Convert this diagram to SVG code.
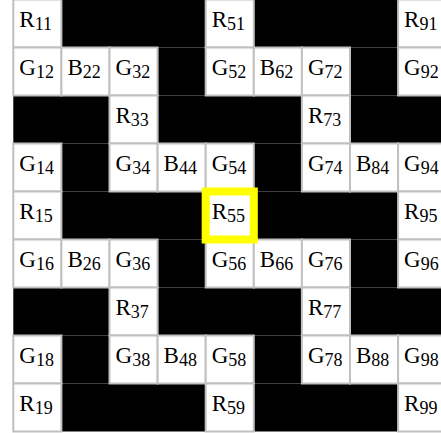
<svg xmlns="http://www.w3.org/2000/svg" width="441" height="433" viewBox="0 0 441 433">
<style>
.bk{fill:#000}
.w{fill:#fff;stroke:#c0c0c0;stroke-width:2}
.t{font-family:"Liberation Serif","Times New Roman",serif;font-size:23px;fill:#000}
.s{font-size:18px}
.hl{fill:none;stroke:#ffff00;stroke-width:8}
</style>
<rect x="0" y="0" width="441" height="433" fill="#fff"/>
<g id="black">
<rect class="bk" x="61.4" y="-0.5" width="144.3" height="48"/>
<rect class="bk" x="253.8" y="-0.5" width="144.3" height="48"/>
<rect class="bk" x="157.6" y="47.5" width="48.1" height="48"/>
<rect class="bk" x="350" y="47.5" width="48.1" height="48"/>
<rect class="bk" x="13.3" y="95.5" width="96.2" height="48"/>
<rect class="bk" x="157.6" y="95.5" width="144.3" height="48"/>
<rect class="bk" x="350" y="95.5" width="96.2" height="48"/>
<rect class="bk" x="61.4" y="143.5" width="48.1" height="48"/>
<rect class="bk" x="253.8" y="143.5" width="48.1" height="48"/>
<rect class="bk" x="61.4" y="191.5" width="144.3" height="48"/>
<rect class="bk" x="253.8" y="191.5" width="144.3" height="48"/>
<rect class="bk" x="157.6" y="239.5" width="48.1" height="48"/>
<rect class="bk" x="350" y="239.5" width="48.1" height="48"/>
<rect class="bk" x="13.3" y="287.5" width="96.2" height="48"/>
<rect class="bk" x="157.6" y="287.5" width="144.3" height="48"/>
<rect class="bk" x="350" y="287.5" width="96.2" height="48"/>
<rect class="bk" x="61.4" y="335.5" width="48.1" height="48"/>
<rect class="bk" x="253.8" y="335.5" width="48.1" height="48"/>
<rect class="bk" x="61.4" y="383.5" width="144.3" height="48"/>
<rect class="bk" x="253.8" y="383.5" width="144.3" height="48"/>
</g>
<g id="R11"><rect class="w" x="13.3" y="-0.5" width="48.1" height="48"/><text class="t" x="19.3" y="26.5">R<tspan class="s" dy="3">11</tspan></text></g>
<g id="R51"><rect class="w" x="205.7" y="-0.5" width="48.1" height="48"/><text class="t" x="211.7" y="26.5">R<tspan class="s" dy="3">51</tspan></text></g>
<g id="R91"><rect class="w" x="398.1" y="-0.5" width="48.1" height="48"/><text class="t" x="404.1" y="26.5">R<tspan class="s" dy="3">91</tspan></text></g>

<g id="G12"><rect class="w" x="13.3" y="47.5" width="48.1" height="48"/><text class="t" x="19.3" y="74.5">G<tspan class="s" dy="3">12</tspan></text></g>
<g id="B22"><rect class="w" x="61.4" y="47.5" width="48.1" height="48"/><text class="t" x="67.4" y="74.5">B<tspan class="s" dy="3">22</tspan></text></g>
<g id="G32"><rect class="w" x="109.5" y="47.5" width="48.1" height="48"/><text class="t" x="115.5" y="74.5">G<tspan class="s" dy="3">32</tspan></text></g>
<g id="G52"><rect class="w" x="205.7" y="47.5" width="48.1" height="48"/><text class="t" x="211.7" y="74.5">G<tspan class="s" dy="3">52</tspan></text></g>
<g id="B62"><rect class="w" x="253.8" y="47.5" width="48.1" height="48"/><text class="t" x="259.8" y="74.5">B<tspan class="s" dy="3">62</tspan></text></g>
<g id="G72"><rect class="w" x="301.9" y="47.5" width="48.1" height="48"/><text class="t" x="307.9" y="74.5">G<tspan class="s" dy="3">72</tspan></text></g>
<g id="G92"><rect class="w" x="398.1" y="47.5" width="48.1" height="48"/><text class="t" x="404.1" y="74.5">G<tspan class="s" dy="3">92</tspan></text></g>

<g id="R33"><rect class="w" x="109.5" y="95.5" width="48.1" height="48"/><text class="t" x="115.5" y="122.5">R<tspan class="s" dy="3">33</tspan></text></g>
<g id="R73"><rect class="w" x="301.9" y="95.5" width="48.1" height="48"/><text class="t" x="307.9" y="122.5">R<tspan class="s" dy="3">73</tspan></text></g>

<g id="G14"><rect class="w" x="13.3" y="143.5" width="48.1" height="48"/><text class="t" x="19.3" y="170.5">G<tspan class="s" dy="3">14</tspan></text></g>
<g id="G34"><rect class="w" x="109.5" y="143.5" width="48.1" height="48"/><text class="t" x="115.5" y="170.5">G<tspan class="s" dy="3">34</tspan></text></g>
<g id="B44"><rect class="w" x="157.6" y="143.5" width="48.1" height="48"/><text class="t" x="163.6" y="170.5">B<tspan class="s" dy="3">44</tspan></text></g>
<g id="G54"><rect class="w" x="205.7" y="143.5" width="48.1" height="48"/><text class="t" x="211.7" y="170.5">G<tspan class="s" dy="3">54</tspan></text></g>
<g id="G74"><rect class="w" x="301.9" y="143.5" width="48.1" height="48"/><text class="t" x="307.9" y="170.5">G<tspan class="s" dy="3">74</tspan></text></g>
<g id="B84"><rect class="w" x="350" y="143.5" width="48.1" height="48"/><text class="t" x="356" y="170.5">B<tspan class="s" dy="3">84</tspan></text></g>
<g id="G94"><rect class="w" x="398.1" y="143.5" width="48.1" height="48"/><text class="t" x="404.1" y="170.5">G<tspan class="s" dy="3">94</tspan></text></g>

<g id="R15"><rect class="w" x="13.3" y="191.5" width="48.1" height="48"/><text class="t" x="19.3" y="218.5">R<tspan class="s" dy="3">15</tspan></text></g>
<g id="R55"><rect class="w" x="205.7" y="191.5" width="48.1" height="48"/><text class="t" x="211.7" y="218.5">R<tspan class="s" dy="3">55</tspan></text></g>
<g id="R95"><rect class="w" x="398.1" y="191.5" width="48.1" height="48"/><text class="t" x="404.1" y="218.5">R<tspan class="s" dy="3">95</tspan></text></g>

<g id="G16"><rect class="w" x="13.3" y="239.5" width="48.1" height="48"/><text class="t" x="19.3" y="266.5">G<tspan class="s" dy="3">16</tspan></text></g>
<g id="B26"><rect class="w" x="61.4" y="239.5" width="48.1" height="48"/><text class="t" x="67.4" y="266.5">B<tspan class="s" dy="3">26</tspan></text></g>
<g id="G36"><rect class="w" x="109.5" y="239.5" width="48.1" height="48"/><text class="t" x="115.5" y="266.5">G<tspan class="s" dy="3">36</tspan></text></g>
<g id="G56"><rect class="w" x="205.7" y="239.5" width="48.1" height="48"/><text class="t" x="211.7" y="266.5">G<tspan class="s" dy="3">56</tspan></text></g>
<g id="B66"><rect class="w" x="253.8" y="239.5" width="48.1" height="48"/><text class="t" x="259.8" y="266.5">B<tspan class="s" dy="3">66</tspan></text></g>
<g id="G76"><rect class="w" x="301.9" y="239.5" width="48.1" height="48"/><text class="t" x="307.9" y="266.5">G<tspan class="s" dy="3">76</tspan></text></g>
<g id="G96"><rect class="w" x="398.1" y="239.5" width="48.1" height="48"/><text class="t" x="404.1" y="266.5">G<tspan class="s" dy="3">96</tspan></text></g>

<g id="R37"><rect class="w" x="109.5" y="287.5" width="48.1" height="48"/><text class="t" x="115.5" y="314.5">R<tspan class="s" dy="3">37</tspan></text></g>
<g id="R77"><rect class="w" x="301.9" y="287.5" width="48.1" height="48"/><text class="t" x="307.9" y="314.5">R<tspan class="s" dy="3">77</tspan></text></g>

<g id="G18"><rect class="w" x="13.3" y="335.5" width="48.1" height="48"/><text class="t" x="19.3" y="362.5">G<tspan class="s" dy="3">18</tspan></text></g>
<g id="G38"><rect class="w" x="109.5" y="335.5" width="48.1" height="48"/><text class="t" x="115.5" y="362.5">G<tspan class="s" dy="3">38</tspan></text></g>
<g id="B48"><rect class="w" x="157.6" y="335.5" width="48.1" height="48"/><text class="t" x="163.6" y="362.5">B<tspan class="s" dy="3">48</tspan></text></g>
<g id="G58"><rect class="w" x="205.7" y="335.5" width="48.1" height="48"/><text class="t" x="211.7" y="362.5">G<tspan class="s" dy="3">58</tspan></text></g>
<g id="G78"><rect class="w" x="301.9" y="335.5" width="48.1" height="48"/><text class="t" x="307.9" y="362.5">G<tspan class="s" dy="3">78</tspan></text></g>
<g id="B88"><rect class="w" x="350" y="335.5" width="48.1" height="48"/><text class="t" x="356" y="362.5">B<tspan class="s" dy="3">88</tspan></text></g>
<g id="G98"><rect class="w" x="398.1" y="335.5" width="48.1" height="48"/><text class="t" x="404.1" y="362.5">G<tspan class="s" dy="3">98</tspan></text></g>

<g id="R19"><rect class="w" x="13.3" y="383.5" width="48.1" height="48"/><text class="t" x="19.3" y="410.5">R<tspan class="s" dy="3">19</tspan></text></g>
<g id="R59"><rect class="w" x="205.7" y="383.5" width="48.1" height="48"/><text class="t" x="211.7" y="410.5">R<tspan class="s" dy="3">59</tspan></text></g>
<g id="R99"><rect class="w" x="398.1" y="383.5" width="48.1" height="48"/><text class="t" x="404.1" y="410.5">R<tspan class="s" dy="3">99</tspan></text></g>

<g id="highlight"><rect class="hl" x="205.7" y="191.5" width="48.1" height="48"/></g>
</svg>
